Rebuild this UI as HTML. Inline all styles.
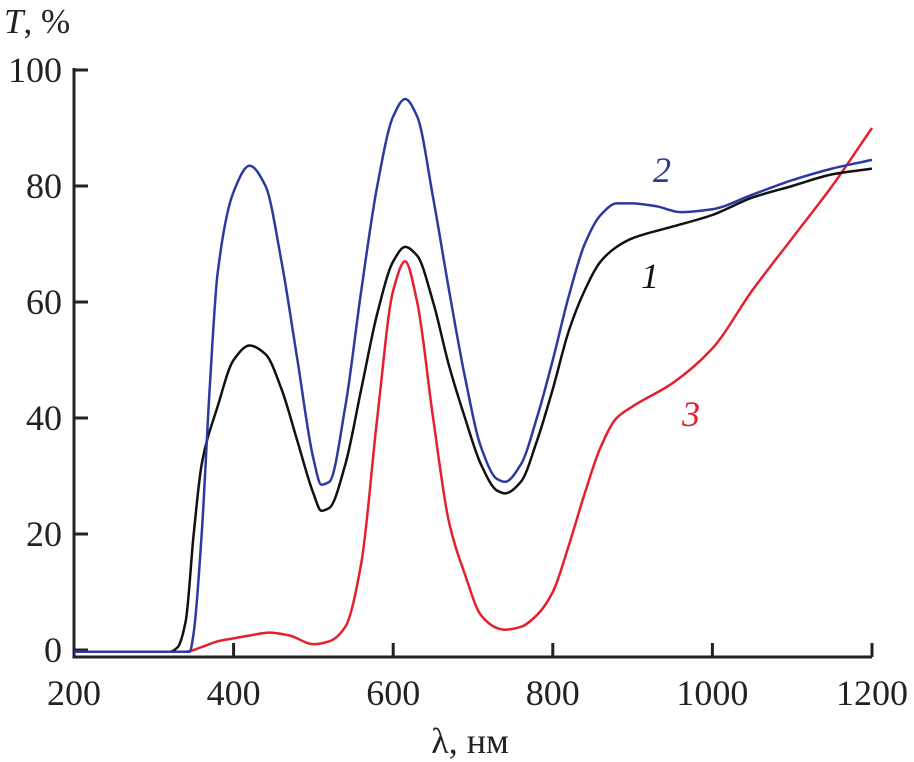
<!DOCTYPE html>
<html><head><meta charset="utf-8"><style>
body{margin:0;background:#fff}
svg{display:block;font-family:"Liberation Serif",serif}
</style></head><body>
<svg id="chart" width="914" height="762" viewBox="0 0 914 762" xmlns="http://www.w3.org/2000/svg">
<g id="axes"></g>
<g id="series"></g>
<text x="4" y="33" font-size="35" font-style="italic" fill="#222">T<tspan font-style="normal">, %</tspan></text>
<text x="470" y="753" font-size="36" text-anchor="middle" fill="#222">λ, нм</text>
<text x="641" y="288" font-size="36" font-style="italic" fill="#111">1</text>
<text x="653" y="182" font-size="36" font-style="italic" fill="#2b3a8f">2</text>
<text x="682" y="426" font-size="36" font-style="italic" fill="#e4202e">3</text>
</svg>
<script>
const xTicks=[200,400,600,800,1000,1200];
const yTicks=[0,20,40,60,80,100];
const x1=[200,320,330,340,350,360,380,400,420,440,460,480,500,510,520,540,560,580,600,615,630,650,670,690,710,730,740,760,780,800,820,840,860,880,900,950,1000,1050,1100,1150,1200];
const y1=[-0.3,-0.3,0.5,5,20,32,42,50,52.5,51,45,36,27,24,24.5,32,45,58,67,69.5,68,60,49,40,32,27.5,27,29,36,45,55,62,67,69.5,71,73,75,78,80,82,83];
const x2=[200,345,350,360,370,380,400,420,440,460,480,500,510,520,540,560,580,600,615,630,650,670,690,710,730,740,760,780,800,820,840,860,880,900,930,960,1000,1050,1100,1150,1200];
const y2=[-0.3,-0.3,3,20,45,65,79,83.5,80,67,50,33,28.5,29,42,62,80,92,95,92,78,62,47,35,29.5,29,32,40,50,61,70,75,77,77,76.5,75.5,76,78.5,81,83,84.5];
const x3=[200,340,360,380,400,420,445,470,500,520,540,560,580,600,615,630,650,670,690,710,730,740,760,780,800,820,840,860,880,900,950,1000,1050,1100,1150,1200];
const y3=[-0.3,-0.3,0.5,1.5,2,2.5,3,2.5,1,1.5,4,15,40,62,67,60,40,22,13,6,3.8,3.5,4,6,10,18,27,35,40,42,46,52,62,71,80,90];
const NS="http://www.w3.org/2000/svg";
const sx=v=>74+(v-200)*(872-74)/1000;
const sy=v=>650-v*5.8;
const axes=document.getElementById('axes');
function mk(tag,attrs,parent){const e=document.createElementNS(NS,tag);for(const k in attrs)e.setAttribute(k,attrs[k]);parent.appendChild(e);return e;}
const frame=mk('path',{d:`M74 68 V657 H872`,fill:'none',stroke:'#222','stroke-width':3},axes);


xTicks.forEach(t=>{
 const l=mk('line',{x1:sx(t),x2:sx(t),y1:657,y2:643,stroke:'#222','stroke-width':3},axes);
 
 
 const tx=mk('text',{x:sx(t),y:705,'font-size':36,'text-anchor':'middle',fill:'#222'},axes);
 tx.textContent=t;
 
 
});
yTicks.forEach(t=>{
 const l=mk('line',{x1:74,x2:88,y1:sy(t),y2:sy(t),stroke:'#222','stroke-width':3},axes);
 
 
 const tx=mk('text',{x:62,y:sy(t)+12,'font-size':36,'text-anchor':'end',fill:'#222'},axes);
 tx.textContent=t;
 
 
});
// monotone cubic (Fritsch-Carlson) to avoid overshoot
function smooth(xs,ys){
 const X=xs.map(sx),Y=ys.map(sy),n=X.length;
 const d=[],m=new Array(n);
 for(let i=0;i<n-1;i++)d.push((Y[i+1]-Y[i])/(X[i+1]-X[i]));
 m[0]=d[0];m[n-1]=d[n-2];
 for(let i=1;i<n-1;i++){
  if(d[i-1]*d[i]<=0)m[i]=0;
  else{const h0=X[i]-X[i-1],h1=X[i+1]-X[i];const w1=2*h1+h0,w2=h1+2*h0;m[i]=(w1+w2)/(w1/d[i-1]+w2/d[i]);}
 }
 let p=`M${X[0]},${Y[0]}`;
 for(let i=0;i<n-1;i++){
  const h=(X[i+1]-X[i])/3;
  p+=` C${X[i]+h},${Y[i]+m[i]*h} ${X[i+1]-h},${Y[i+1]-m[i+1]*h} ${X[i+1]},${Y[i+1]}`;
 }
 return p;
}
const ser=document.getElementById('series');
const s3=mk('path',{d:smooth(x3,y3),fill:'none',stroke:'#e4202e','stroke-width':2.5},ser);


const s1=mk('path',{d:smooth(x1,y1),fill:'none',stroke:'#111','stroke-width':2.5},ser);


const s2=mk('path',{d:smooth(x2,y2),fill:'none',stroke:'#2b3a9f','stroke-width':2.5},ser);


</script>
</body></html>
